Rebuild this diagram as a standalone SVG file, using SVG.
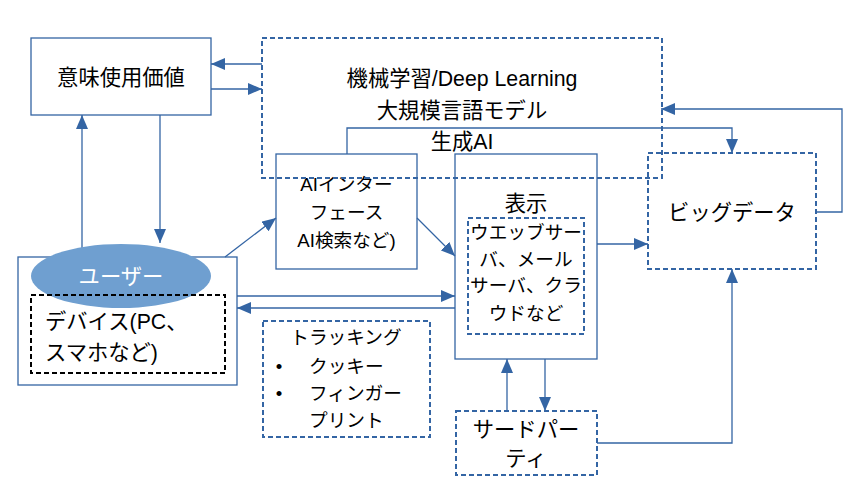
<svg xmlns="http://www.w3.org/2000/svg" width="866" height="494" viewBox="0 0 866 494">
<style>
text{font-family:"Liberation Sans","Noto Sans CJK JP",sans-serif;fill:#000}
.l{font-size:21.3px}
.s{font-size:18.67px}
.m{text-anchor:middle}
.box{fill:none;stroke:#3465a4;stroke-width:1.3}
.dash{fill:none;stroke:#3465a4;stroke-width:2;stroke-dasharray:5 3}
.kdash{fill:none;stroke:#000;stroke-width:2;stroke-dasharray:5 3}
.c{fill:none;stroke:#3465a4;stroke-width:1.3;marker-end:url(#ah)}
.cn{fill:none;stroke:#3465a4;stroke-width:1.3}
</style>
<defs>
<marker id="ah" markerUnits="userSpaceOnUse" markerWidth="14" markerHeight="12" refX="14" refY="6" orient="auto">
<path d="M0,0 L14,6 L0,12 z" fill="#3465a4"/>
</marker>
</defs>
<rect width="866" height="494" fill="#fff"/>
<g id="connectors">
<path class="c" d="M262,64 H211"/>
<path class="c" d="M211,89 H262"/>
<path class="c" d="M82,257 V115"/>
<path class="c" d="M160,115 V243"/>
<path class="c" d="M347,154 V128 H732 V153"/>
<path class="c" d="M816,212 H842 V109 H661"/>
<path class="c" d="M597,244 H648"/>
<path class="c" d="M225,257 L276,218"/>
<path class="c" d="M417,218 L455,256"/>
<path class="c" d="M237,296 H455"/>
<path class="c" d="M455,308 H237"/>
<path class="c" d="M507,411 V359"/>
<path class="c" d="M545,359 V411"/>
<path class="c" d="M597,443 H732 V269"/>
</g>
<g id="value">
<rect class="box" x="31" y="38" width="180" height="77"/>
<text class="l m" x="121" y="85">意味使用価値</text>
</g>
<g id="ai-interface">
<rect class="box" x="276" y="154" width="141" height="115"/>
<text class="s m" x="346.5" y="191">AIインター</text>
<text class="s m" x="346.5" y="219">フェース</text>
<text class="s m" x="346.5" y="247">AI検索など)</text>
</g>
<g id="display">
<rect class="box" x="455" y="154" width="142" height="205"/>
<text class="l m" x="526" y="211">表示</text>
<rect class="dash" x="468" y="218" width="116" height="116"/>
<text class="s m" x="526" y="239">ウエッブサー</text>
<text class="s m" x="526" y="266">バ、メール</text>
<text class="s m" x="526" y="292">サーバ、クラ</text>
<text class="s m" x="526" y="320">ウドなど</text>
</g>
<g id="ml">
<rect class="dash" x="262" y="38" width="400" height="140"/>
<text class="l m" x="462" y="86">機械学習/Deep Learning</text>
<text class="l m" x="462" y="118">大規模言語モデル</text>
<text class="l m" x="462" y="149">生成AI</text>
</g>
<g id="bigdata">
<rect class="dash" x="648" y="153" width="168" height="116"/>
<text class="l m" x="732" y="220">ビッグデータ</text>
</g>
<g id="user">
<rect class="box" x="18" y="257" width="219" height="128"/>
<ellipse cx="121" cy="276" rx="90" ry="32" fill="#6f9fd0"/>
<text class="l m" x="121" y="284" style="fill:#fff">ユーザー</text>
<rect class="kdash" x="31" y="295" width="194" height="78"/>
<text class="l" x="45" y="329">デバイス(PC、</text>
<text class="l" x="45" y="360">スマホなど)</text>
</g>
<g id="tracking">
<rect class="dash" x="263" y="321" width="167" height="116"/>
<text class="s m" x="346" y="344">トラッキング</text>
<text class="s m" x="279" y="373">•</text>
<text class="s" x="309" y="373">クッキー</text>
<text class="s m" x="279" y="400">•</text>
<text class="s" x="309" y="400">フィンガー</text>
<text class="s" x="309" y="427">プリント</text>
</g>
<g id="thirdparty">
<rect class="dash" x="456" y="411" width="141" height="64"/>
<text class="l m" x="526" y="437">サードパー</text>
<text class="l m" x="526" y="466">ティ</text>
</g>
</svg>
